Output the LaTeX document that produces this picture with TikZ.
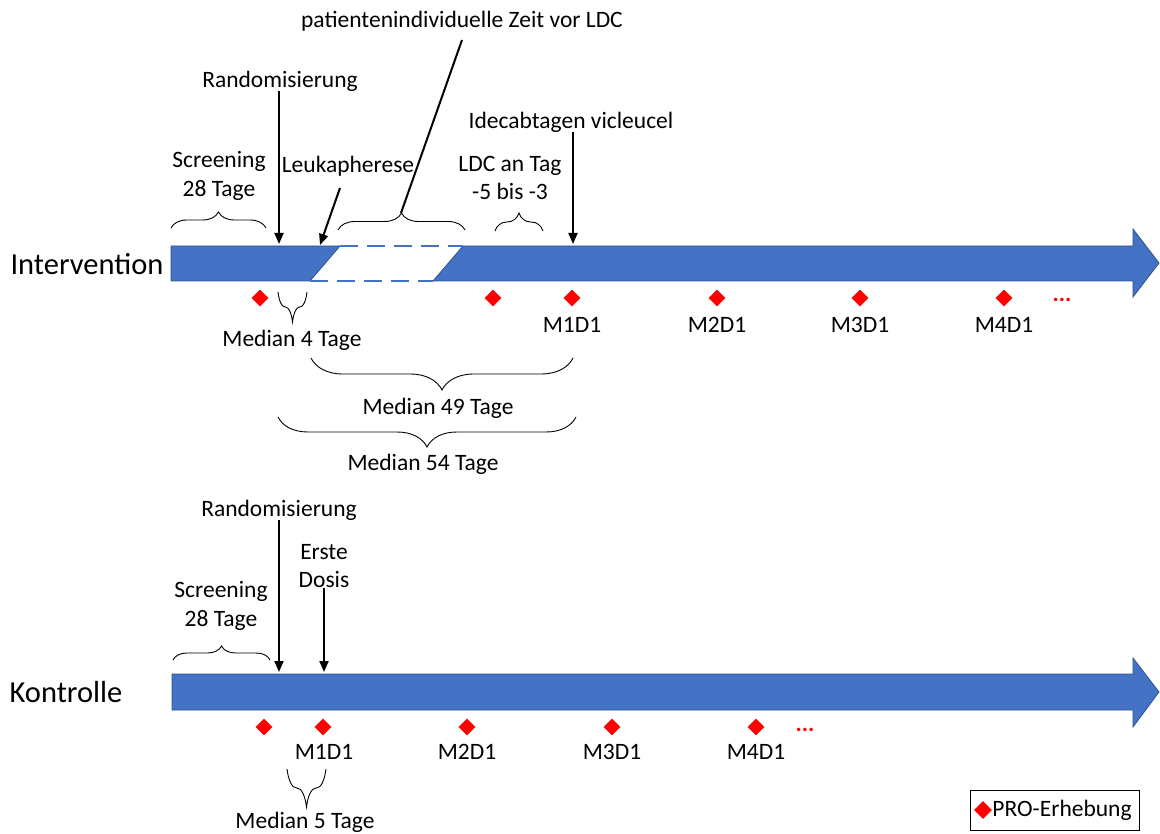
\documentclass[tikz,border=0pt]{standalone}
\usepackage{fontspec}
\setmainfont{Carlito}
\usetikzlibrary{decorations.pathreplacing,shapes.geometric,arrows.meta}
\definecolor{obl}{HTML}{4472C4}
\definecolor{obd}{HTML}{2F528F}
\begin{document}
\begin{tikzpicture}[x=1pt,y=-1pt,
  lbl/.style={font=\fontsize{23.5}{28.5}\selectfont, inner sep=0pt, align=center},
  big/.style={font=\fontsize{30.5}{35}\selectfont, inner sep=0pt},
  arr/.style={line width=2pt, -{Triangle[length=11pt,width=9pt]}},
  plain/.style={line width=2pt},
  brc/.style={decorate, decoration={brace, amplitude=#1}, line width=0.9pt},
  brc/.default=15pt,
  pro/.style={diamond, fill=red, minimum size=17pt, inner sep=0pt},
  bar/.style={fill=obl, draw=obd, line width=0.8pt},
  gapline/.style={obl, line width=2.6pt, dash pattern=on 18pt off 9pt},
  dots/.style={red, font=\fontsize{23.5}{28}\selectfont\bfseries, inner sep=0pt, anchor=base}]
\useasboundingbox (0,0) rectangle (1160,834);

% ---------------- Intervention ----------------
\path[bar] (171,246) -- (340,246) -- (310,281) -- (171,281) -- cycle;
\path[bar] (463,246) -- (1133,246) -- (1133,229) -- (1159,263) -- (1133,297) -- (1133,281) -- (433,281) -- cycle;
\draw[gapline] (340,246) -- (463,246);
\draw[gapline] (310,281) -- (433,281);

\node[big] (int) at (87,264) {Intervention};

\node[lbl] (pzeit) at (462,21) {patientenindividuelle Zeit vor LDC};
\node[lbl] (rand1) at (280,81) {Randomisierung};
\node[lbl] (ide) at (571,122) {Idecabtagen vicleucel};
\node[lbl] (scr1) at (219,176) {Screening\\28 Tage};
\node[lbl] (leuk) at (348,166) {Leukapherese};
\node[lbl] (ldc) at (510,178) {LDC an Tag\\-5 bis -3};

\coordinate (rand1b) at (279,244);
\coordinate (leukt) at (340,188);
\coordinate (leukb) at (320,245);
\coordinate (pzt) at (462,40);
\coordinate (pzb) at (401,213);
\coordinate (ideb) at (573,244);

\draw[arr] (rand1.south -| rand1b) -- (rand1b);
\draw[arr] (leukt) -- (leukb);
\draw[plain] (pzt) -- (pzb);
\draw[arr] (ide.south -| ideb) -- (ideb);

\draw[brc=16pt] (171,228) -- (266,228);
\draw[brc=17pt] (338,230) -- (465,230);
\draw[brc=18pt] (495,231) -- (543,231);

\node[pro] (p1) at (260,298) {};
\node[pro] (p2) at (493,298) {};
\node[pro] (p3) at (572,298) {};
\node[pro] (p4) at (717,298) {};
\node[pro] (p5) at (860,298) {};
\node[pro] (p6) at (1004,298) {};
\node[dots] (d1) at (1062,302) {...};

\node[lbl] (m1) at (572,325) {M1D1};
\node[lbl] (m2) at (717,325) {M2D1};
\node[lbl] (m3) at (860,325) {M3D1};
\node[lbl] (m4) at (1004,325) {M4D1};

\draw[brc=30pt] (307,292) -- (278,292);
\node[lbl] (med4) at (292,340) {Median 4 Tage};
\draw[brc=32pt] (573,358) -- (311,358);
\node[lbl] (med49) at (438,408) {Median 49 Tage};
\draw[brc=30pt] (576,417) -- (278,417);
\node[lbl] (med54) at (423,464) {Median 54 Tage};

% ---------------- Kontrolle ----------------
\path[bar] (172,674) -- (1133,674) -- (1133,658) -- (1159,692) -- (1133,727) -- (1133,710) -- (172,710) -- cycle;
\node[big] (kon) at (66,692) {Kontrolle};

\node[lbl] (rand2) at (279,510) {Randomisierung};
\node[lbl] (erste) at (324,566) {Erste\\Dosis};
\node[lbl] (scr2) at (221,606) {Screening\\28 Tage};

\coordinate (rand2b) at (279,672);
\coordinate (ersteb) at (324,672);
\draw[arr] (rand2.south) -- (rand2b);
\draw[arr] (erste.south) -- (ersteb);

\draw[brc=14pt] (173,660) -- (270,660);

\node[pro] (q1) at (264,727) {};
\node[pro] (q2) at (323,727) {};
\node[pro] (q3) at (467,727) {};
\node[pro] (q4) at (612,727) {};
\node[pro] (q5) at (756,727) {};
\node[dots] (d2) at (805,731) {...};

\node[lbl] (n1) at (324,752) {M1D1};
\node[lbl] (n2) at (467,752) {M2D1};
\node[lbl] (n3) at (612,752) {M3D1};
\node[lbl] (n4) at (756,752) {M4D1};

\draw[brc=38pt] (326,769) -- (287,769);
\node[lbl] (med5) at (305,822) {Median 5 Tage};

% ---------------- Legend ----------------
\node[draw, line width=1pt, minimum width=169pt, minimum height=40pt, inner sep=0pt] (leg) at (1054.5,810) {};
\node[pro, minimum size=18pt] (legd) at (983,810) {};
\node[lbl] (legt) at (1062,810) {PRO-Erhebung};
\end{tikzpicture}
\end{document}
